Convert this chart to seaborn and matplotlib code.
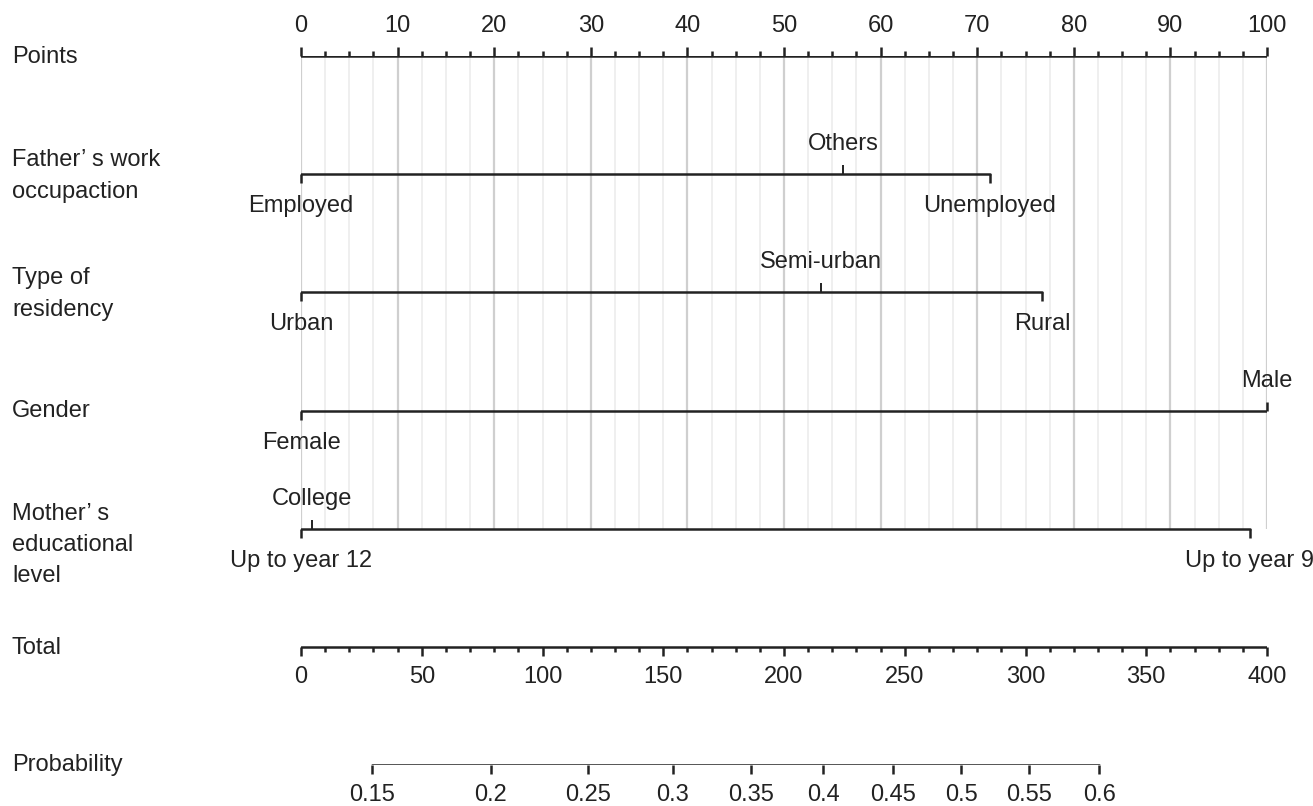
import numpy as np
import pandas as pd
import matplotlib
matplotlib.use("Agg")
import matplotlib.pyplot as plt
import seaborn as sns

# ---------------- data ----------------
points_ticks = list(range(0, 101, 10))

row_names = ["Points", "Father\u2019 s work\noccupaction", "Type of\nresidency",
             "Gender", "Mother\u2019 s\neducational\nlevel", "Total", "Probability"]

father_levels = ["Employed", "Others", "Unemployed"]
father_points = [0.0, 56.1, 71.3]

residency_levels = ["Urban", "Semi-urban", "Rural"]
residency_points = [0.0, 53.8, 76.7]

gender_levels = ["Female", "Male"]
gender_points = [0.0, 100.0]

mother_levels = ["Up to year 12", "College", "Up to year 9"]
mother_points = [0.0, 1.1, 98.2]

total_ticks = list(range(0, 401, 50))
total_max = 400

prob_ticks = [0.15, 0.2, 0.25, 0.3, 0.35, 0.4, 0.45, 0.5, 0.55, 0.6]
prob_labels = ["0.15", "0.2", "0.25", "0.3", "0.35", "0.4", "0.45", "0.5", "0.55", "0.6"]
# position of each probability tick on the Total-points scale
prob_total_pos = [29.6, 78.5, 118.8, 154.0, 186.3, 216.2, 245.1, 273.4, 301.6, 330.6]

# ---------------- style ----------------
sns.set_theme(style="white")
plt.rcParams["font.family"] = ["Liberation Sans", "DejaVu Sans"]
FS = 17
INK = "#222222"
LW = 1.8

W, H = 1313, 806
fig = plt.figure(figsize=(W / 100, H / 100), dpi=100)
top_px, row_px = 56, 118.2
x0_px, x1_px = 301, 1267
ax = fig.add_axes([x0_px / W, 1 - (top_px + 6 * row_px) / H,
                   (x1_px - x0_px) / W, 6 * row_px / H])
ax.set_xlim(0, 100)
ax.set_ylim(6, 0)
ax.axis("off")

px = 1.0 / row_px  # one pixel in y data units
major_len = 9 * px
minor_len = 5 * px

# grid lines
minor_grid = np.arange(0, 100.01, 2.5)
for g in minor_grid:
    is_major = abs(g / 10 - round(g / 10)) < 1e-9
    ax.vlines(g, 0, 4, color="#cfcfcf" if is_major else "#ececec",
              lw=1.6 if is_major else 1.2, zorder=0)


def seg(x_start, x_end, y):
    df = pd.DataFrame({"x": [x_start, x_end], "y": [y, y]})
    sns.lineplot(data=df, x="x", y="y", color=INK, lw=LW, ax=ax,
                 estimator=None, sort=False, legend=False)


# ---- Points row ----
seg(0, 100, 0)
for t in minor_grid:
    is_major = abs(t / 10 - round(t / 10)) < 1e-9
    ax.vlines(t, 0, -(major_len if is_major else minor_len), color=INK, lw=LW,
              clip_on=False)
for t in points_ticks:
    ax.text(t, -30 * px, str(t), ha="center", va="center", fontsize=FS,
            color=INK, clip_on=False)


# ---- categorical rows ----
def cat_row(y, levels, pts):
    seg(min(pts), max(pts), y)
    for i, (lab, p) in enumerate(zip(levels, pts)):
        is_end = p in (min(pts), max(pts))
        if lab in ("Others", "Semi-urban", "College", "Male"):
            ax.vlines(p, y, y - 9 * px, color=INK, lw=1.4 if not is_end else LW,
                      clip_on=False)
            ax.text(p, y - 30 * px, lab, ha="center", va="center",
                    fontsize=FS, color=INK, clip_on=False)
        else:
            ax.vlines(p, y, y + 9 * px, color=INK, lw=LW, clip_on=False)
            ax.text(p, y + 32 * px, lab, ha="center", va="center",
                    fontsize=FS, color=INK, clip_on=False)


cat_row(1, father_levels, father_points)
cat_row(2, residency_levels, residency_points)
cat_row(3, gender_levels, gender_points)
cat_row(4, mother_levels, mother_points)

# ---- Total row ----
scale_t = 100.0 / total_max
seg(0, 100, 5)
for t in range(0, total_max + 1, 10):
    major = t % 50 == 0
    ax.vlines(t * scale_t, 5, 5 + (major_len if major else minor_len),
              color=INK, lw=LW, clip_on=False)
for t in total_ticks:
    ax.text(t * scale_t, 5 + 30 * px, str(t), ha="center", va="center",
            fontsize=FS, color=INK, clip_on=False)

# ---- Probability row ----
ppos = [v * scale_t for v in prob_total_pos]
seg(ppos[0], ppos[-1], 6)
for p, lab in zip(ppos, prob_labels):
    ax.vlines(p, 6, 6 + 9 * px, color=INK, lw=LW, clip_on=False)
    ax.text(p, 6 + 30 * px, lab, ha="center", va="center", fontsize=FS,
            color=INK, clip_on=False)

# ---- row labels ----
label_y_px = [57, 176, 294, 411, 545, 648, 765]
for name, yp in zip(row_names, label_y_px):
    fig.text(12 / W, 1 - yp / H, name, ha="left", va="center", fontsize=FS,
             color=INK, linespacing=1.55)

fig.savefig("out.png", dpi=100)
